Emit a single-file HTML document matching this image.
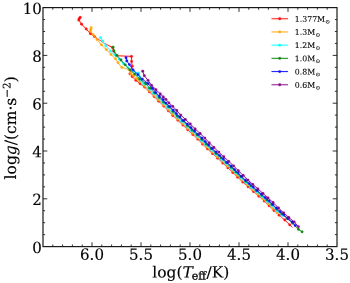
<!DOCTYPE html>
<html><head><meta charset="utf-8"><title>log g vs log Teff</title>
<style>html,body{margin:0;padding:0;background:#fff;}svg{display:block;will-change:transform;}text{font-family:"DejaVu Serif","Liberation Serif",serif;fill:#000;stroke:#000;stroke-width:0.15px;}</style></head>
<body>
<svg width="350" height="283" viewBox="0 0 350 283">
<defs><filter id="soft" x="0" y="0" width="350" height="283" filterUnits="userSpaceOnUse"><feConvolveMatrix order="3" kernelMatrix="0.008 0.04 0.008 0.04 0.808 0.04 0.008 0.04 0.008" edgeMode="duplicate" preserveAlpha="false"/></filter></defs>
<rect x="0" y="0" width="350" height="283" fill="#fff"/>
<g filter="url(#soft)">
<g stroke="#ff0000" fill="#ff0000"><polyline points="80.2,17.3 79.3,18.6 78.8,20.0 81.6,24.2 86.2,29.0 90.4,33.7 94.5,36.6 104.7,43.4 112.5,47.6 113.5,51.0 116.5,55.7 131.5,56.4 131.6,61.4 132.2,66.2 129.9,73.8 132.2,76.6 135.9,80.3 140.1,83.7 144.5,87.0 149.3,91.8 154.1,96.5 158.7,101.2 163.7,106.0 168.3,110.8 172.7,115.5 177.9,120.2 182.9,125.0 187.7,129.8 192.9,134.5 197.9,139.2 202.5,144.0 207.4,148.8 212.4,153.5 217.6,158.2 222.8,163.0 227.8,167.8 232.7,172.5 237.7,177.2 242.7,182.0 248.1,186.8 253.5,191.5 258.8,196.2 264.2,201.0 269.1,205.8 274.0,210.5 279.2,215.2 284.8,220.0 289.7,224.8 292.4,227.5" fill="none" stroke-width="1.0" stroke-linejoin="round"/><circle cx="80.2" cy="17.3" r="1.38" stroke="none"/><circle cx="79.3" cy="18.6" r="1.38" stroke="none"/><circle cx="78.8" cy="20.0" r="1.38" stroke="none"/><circle cx="81.6" cy="24.2" r="1.38" stroke="none"/><circle cx="86.2" cy="29.0" r="1.38" stroke="none"/><circle cx="90.4" cy="33.7" r="1.38" stroke="none"/><circle cx="94.5" cy="36.6" r="1.38" stroke="none"/><circle cx="112.5" cy="47.6" r="1.38" stroke="none"/><circle cx="113.5" cy="51.0" r="1.38" stroke="none"/><circle cx="116.5" cy="55.7" r="1.38" stroke="none"/><circle cx="131.5" cy="56.4" r="1.38" stroke="none"/><circle cx="131.6" cy="61.4" r="1.38" stroke="none"/><circle cx="132.2" cy="66.2" r="1.38" stroke="none"/><circle cx="129.9" cy="73.8" r="1.38" stroke="none"/><circle cx="132.2" cy="76.6" r="1.38" stroke="none"/><circle cx="135.9" cy="80.3" r="1.38" stroke="none"/><circle cx="140.1" cy="83.7" r="1.38" stroke="none"/><circle cx="144.5" cy="87.0" r="1.38" stroke="none"/><circle cx="149.3" cy="91.8" r="1.38" stroke="none"/><circle cx="154.1" cy="96.5" r="1.38" stroke="none"/><circle cx="158.7" cy="101.2" r="1.38" stroke="none"/><circle cx="163.7" cy="106.0" r="1.38" stroke="none"/><circle cx="168.3" cy="110.8" r="1.38" stroke="none"/><circle cx="172.7" cy="115.5" r="1.38" stroke="none"/><circle cx="177.9" cy="120.2" r="1.38" stroke="none"/><circle cx="182.9" cy="125.0" r="1.38" stroke="none"/><circle cx="187.7" cy="129.8" r="1.38" stroke="none"/><circle cx="192.9" cy="134.5" r="1.38" stroke="none"/><circle cx="197.9" cy="139.2" r="1.38" stroke="none"/><circle cx="202.5" cy="144.0" r="1.38" stroke="none"/><circle cx="207.4" cy="148.8" r="1.38" stroke="none"/><circle cx="212.4" cy="153.5" r="1.38" stroke="none"/><circle cx="217.6" cy="158.2" r="1.38" stroke="none"/><circle cx="222.8" cy="163.0" r="1.38" stroke="none"/><circle cx="227.8" cy="167.8" r="1.38" stroke="none"/><circle cx="232.7" cy="172.5" r="1.38" stroke="none"/><circle cx="237.7" cy="177.2" r="1.38" stroke="none"/><circle cx="242.7" cy="182.0" r="1.38" stroke="none"/><circle cx="248.1" cy="186.8" r="1.38" stroke="none"/><circle cx="253.5" cy="191.5" r="1.38" stroke="none"/><circle cx="258.8" cy="196.2" r="1.38" stroke="none"/><circle cx="264.2" cy="201.0" r="1.38" stroke="none"/><circle cx="269.1" cy="205.8" r="1.38" stroke="none"/><circle cx="274.0" cy="210.5" r="1.38" stroke="none"/><circle cx="279.2" cy="215.2" r="1.38" stroke="none"/><circle cx="284.8" cy="220.0" r="1.38" stroke="none"/><circle cx="289.7" cy="224.8" r="1.38" stroke="none"/></g>
<g stroke="#ffa500" fill="#ffa500"><polyline points="91.2,27.7 90.8,29.5 90.4,31.1 93.1,34.6 97.0,39.5 101.5,44.8 106.3,49.6 111.1,54.5 115.5,58.8 118.0,62.6 121.8,67.4 129.3,69.6 130.8,73.5 133.6,75.7 136.6,78.6 139.8,81.4 144.8,86.0 149.5,90.7 154.3,95.4 159.1,100.1 163.6,104.8 168.4,109.5 172.8,114.2 177.7,118.9 182.8,123.6 187.6,128.3 192.7,133.0 197.7,137.7 202.3,142.4 207.0,147.1 212.0,151.8 217.1,156.5 222.3,161.2 227.4,165.9 232.2,170.6 237.2,175.3 241.9,180.0 247.1,184.7 252.4,189.4 257.7,194.1 262.8,198.8 268.0,203.5 272.6,208.2 277.5,212.9" fill="none" stroke-width="1.0" stroke-linejoin="round"/><circle cx="91.2" cy="27.7" r="1.38" stroke="none"/><circle cx="90.8" cy="29.5" r="1.38" stroke="none"/><circle cx="90.4" cy="31.1" r="1.38" stroke="none"/><circle cx="93.1" cy="34.6" r="1.38" stroke="none"/><circle cx="97.0" cy="39.5" r="1.38" stroke="none"/><circle cx="101.5" cy="44.8" r="1.38" stroke="none"/><circle cx="106.3" cy="49.6" r="1.38" stroke="none"/><circle cx="111.1" cy="54.5" r="1.38" stroke="none"/><circle cx="115.5" cy="58.8" r="1.38" stroke="none"/><circle cx="118.0" cy="62.6" r="1.38" stroke="none"/><circle cx="121.8" cy="67.4" r="1.38" stroke="none"/><circle cx="129.3" cy="69.6" r="1.38" stroke="none"/><circle cx="130.8" cy="73.5" r="1.38" stroke="none"/><circle cx="133.6" cy="75.7" r="1.38" stroke="none"/><circle cx="136.6" cy="78.6" r="1.38" stroke="none"/><circle cx="139.8" cy="81.4" r="1.38" stroke="none"/><circle cx="144.8" cy="86.0" r="1.38" stroke="none"/><circle cx="149.5" cy="90.7" r="1.38" stroke="none"/><circle cx="154.3" cy="95.4" r="1.38" stroke="none"/><circle cx="159.1" cy="100.1" r="1.38" stroke="none"/><circle cx="163.6" cy="104.8" r="1.38" stroke="none"/><circle cx="168.4" cy="109.5" r="1.38" stroke="none"/><circle cx="172.8" cy="114.2" r="1.38" stroke="none"/><circle cx="177.7" cy="118.9" r="1.38" stroke="none"/><circle cx="182.8" cy="123.6" r="1.38" stroke="none"/><circle cx="187.6" cy="128.3" r="1.38" stroke="none"/><circle cx="192.7" cy="133.0" r="1.38" stroke="none"/><circle cx="197.7" cy="137.7" r="1.38" stroke="none"/><circle cx="202.3" cy="142.4" r="1.38" stroke="none"/><circle cx="207.0" cy="147.1" r="1.38" stroke="none"/><circle cx="212.0" cy="151.8" r="1.38" stroke="none"/><circle cx="217.1" cy="156.5" r="1.38" stroke="none"/><circle cx="222.3" cy="161.2" r="1.38" stroke="none"/><circle cx="227.4" cy="165.9" r="1.38" stroke="none"/><circle cx="232.2" cy="170.6" r="1.38" stroke="none"/><circle cx="237.2" cy="175.3" r="1.38" stroke="none"/><circle cx="241.9" cy="180.0" r="1.38" stroke="none"/><circle cx="247.1" cy="184.7" r="1.38" stroke="none"/><circle cx="252.4" cy="189.4" r="1.38" stroke="none"/><circle cx="257.7" cy="194.1" r="1.38" stroke="none"/><circle cx="262.8" cy="198.8" r="1.38" stroke="none"/><circle cx="268.0" cy="203.5" r="1.38" stroke="none"/><circle cx="272.6" cy="208.2" r="1.38" stroke="none"/><circle cx="277.5" cy="212.9" r="1.38" stroke="none"/></g>
<g stroke="#00ffff" fill="#00ffff"><polyline points="100.5,37.6 102.6,41.1 105.8,45.9 110.6,51.2 114.6,54.9 119.2,59.3 123.5,63.7 128.0,68.0 133.4,71.2 138.6,73.2 139.6,76.8 141.2,80.4 143.5,83.9 148.4,88.5 153.2,93.2 158.0,97.9 162.3,102.6 167.4,107.3 171.8,112.0 176.4,116.7 181.5,121.4 186.4,126.1 191.3,130.8 196.4,135.5 201.1,140.2 205.7,144.9 210.6,149.6 215.6,154.3 220.7,159.0 225.9,163.7 230.8,168.4 235.7,173.1 240.6,177.8 245.6,182.5 251.0,187.2 256.4,191.9 261.7,196.6 267.0,201.3 271.9,206.0 276.8,210.7 282.0,215.4" fill="none" stroke-width="1.0" stroke-linejoin="round"/><circle cx="100.5" cy="37.6" r="1.38" stroke="none"/><circle cx="102.6" cy="41.1" r="1.38" stroke="none"/><circle cx="105.8" cy="45.9" r="1.38" stroke="none"/><circle cx="110.6" cy="51.2" r="1.38" stroke="none"/><circle cx="114.6" cy="54.9" r="1.38" stroke="none"/><circle cx="119.2" cy="59.3" r="1.38" stroke="none"/><circle cx="123.5" cy="63.7" r="1.38" stroke="none"/><circle cx="128.0" cy="68.0" r="1.38" stroke="none"/><circle cx="133.4" cy="71.2" r="1.38" stroke="none"/><circle cx="138.6" cy="73.2" r="1.38" stroke="none"/><circle cx="139.6" cy="76.8" r="1.38" stroke="none"/><circle cx="141.2" cy="80.4" r="1.38" stroke="none"/><circle cx="143.5" cy="83.9" r="1.38" stroke="none"/><circle cx="148.4" cy="88.5" r="1.38" stroke="none"/><circle cx="153.2" cy="93.2" r="1.38" stroke="none"/><circle cx="158.0" cy="97.9" r="1.38" stroke="none"/><circle cx="162.3" cy="102.6" r="1.38" stroke="none"/><circle cx="167.4" cy="107.3" r="1.38" stroke="none"/><circle cx="171.8" cy="112.0" r="1.38" stroke="none"/><circle cx="176.4" cy="116.7" r="1.38" stroke="none"/><circle cx="181.5" cy="121.4" r="1.38" stroke="none"/><circle cx="186.4" cy="126.1" r="1.38" stroke="none"/><circle cx="191.3" cy="130.8" r="1.38" stroke="none"/><circle cx="196.4" cy="135.5" r="1.38" stroke="none"/><circle cx="201.1" cy="140.2" r="1.38" stroke="none"/><circle cx="205.7" cy="144.9" r="1.38" stroke="none"/><circle cx="210.6" cy="149.6" r="1.38" stroke="none"/><circle cx="215.6" cy="154.3" r="1.38" stroke="none"/><circle cx="220.7" cy="159.0" r="1.38" stroke="none"/><circle cx="225.9" cy="163.7" r="1.38" stroke="none"/><circle cx="230.8" cy="168.4" r="1.38" stroke="none"/><circle cx="235.7" cy="173.1" r="1.38" stroke="none"/><circle cx="240.6" cy="177.8" r="1.38" stroke="none"/><circle cx="245.6" cy="182.5" r="1.38" stroke="none"/><circle cx="251.0" cy="187.2" r="1.38" stroke="none"/><circle cx="256.4" cy="191.9" r="1.38" stroke="none"/><circle cx="261.7" cy="196.6" r="1.38" stroke="none"/><circle cx="267.0" cy="201.3" r="1.38" stroke="none"/><circle cx="271.9" cy="206.0" r="1.38" stroke="none"/><circle cx="276.8" cy="210.7" r="1.38" stroke="none"/><circle cx="282.0" cy="215.4" r="1.38" stroke="none"/></g>
<g stroke="#008000" fill="#008000"><polyline points="113.0,47.2 114.0,51.0 116.9,55.3 121.0,60.0 125.2,64.8 130.0,69.9 134.7,74.1 139.5,78.9 145.6,83.5 149.8,88.2 154.5,92.8 159.2,97.5 163.6,102.1 168.5,106.8 173.0,111.4 177.3,116.1 182.4,120.7 187.3,125.4 192.0,130.0 197.1,134.7 201.8,139.3 206.3,144.0 211.1,148.6 216.0,153.3 221.1,157.9 226.2,162.6 231.1,167.2 235.9,171.9 240.7,176.5 245.6,181.2 250.9,185.8 256.3,190.5 261.6,195.1 266.8,199.8 271.9,204.4 276.7,209.1 281.7,213.7 287.1,218.4 292.5,223.0 298.4,229.3 302.1,231.8" fill="none" stroke-width="1.0" stroke-linejoin="round"/><circle cx="113.0" cy="47.2" r="1.38" stroke="none"/><circle cx="114.0" cy="51.0" r="1.38" stroke="none"/><circle cx="116.9" cy="55.3" r="1.38" stroke="none"/><circle cx="121.0" cy="60.0" r="1.38" stroke="none"/><circle cx="125.2" cy="64.8" r="1.38" stroke="none"/><circle cx="130.0" cy="69.9" r="1.38" stroke="none"/><circle cx="134.7" cy="74.1" r="1.38" stroke="none"/><circle cx="139.5" cy="78.9" r="1.38" stroke="none"/><circle cx="145.6" cy="83.5" r="1.38" stroke="none"/><circle cx="149.8" cy="88.2" r="1.38" stroke="none"/><circle cx="154.5" cy="92.8" r="1.38" stroke="none"/><circle cx="159.2" cy="97.5" r="1.38" stroke="none"/><circle cx="163.6" cy="102.1" r="1.38" stroke="none"/><circle cx="168.5" cy="106.8" r="1.38" stroke="none"/><circle cx="173.0" cy="111.4" r="1.38" stroke="none"/><circle cx="177.3" cy="116.1" r="1.38" stroke="none"/><circle cx="182.4" cy="120.7" r="1.38" stroke="none"/><circle cx="187.3" cy="125.4" r="1.38" stroke="none"/><circle cx="192.0" cy="130.0" r="1.38" stroke="none"/><circle cx="197.1" cy="134.7" r="1.38" stroke="none"/><circle cx="201.8" cy="139.3" r="1.38" stroke="none"/><circle cx="206.3" cy="144.0" r="1.38" stroke="none"/><circle cx="211.1" cy="148.6" r="1.38" stroke="none"/><circle cx="216.0" cy="153.3" r="1.38" stroke="none"/><circle cx="221.1" cy="157.9" r="1.38" stroke="none"/><circle cx="226.2" cy="162.6" r="1.38" stroke="none"/><circle cx="231.1" cy="167.2" r="1.38" stroke="none"/><circle cx="235.9" cy="171.9" r="1.38" stroke="none"/><circle cx="240.7" cy="176.5" r="1.38" stroke="none"/><circle cx="245.6" cy="181.2" r="1.38" stroke="none"/><circle cx="250.9" cy="185.8" r="1.38" stroke="none"/><circle cx="256.3" cy="190.5" r="1.38" stroke="none"/><circle cx="261.6" cy="195.1" r="1.38" stroke="none"/><circle cx="266.8" cy="199.8" r="1.38" stroke="none"/><circle cx="271.9" cy="204.4" r="1.38" stroke="none"/><circle cx="276.7" cy="209.1" r="1.38" stroke="none"/><circle cx="281.7" cy="213.7" r="1.38" stroke="none"/><circle cx="287.1" cy="218.4" r="1.38" stroke="none"/><circle cx="292.5" cy="223.0" r="1.38" stroke="none"/><circle cx="298.4" cy="229.3" r="1.38" stroke="none"/><circle cx="302.1" cy="231.8" r="1.38" stroke="none"/></g>
<g stroke="#0000ff" fill="#0000ff"><polyline points="126.0,57.7 126.8,60.9 129.4,64.6 133.1,69.9 137.9,74.7 142.3,79.1 148.1,83.6 152.4,88.3 155.8,92.6 159.3,96.1 163.0,99.6 165.9,103.1 169.8,106.6 173.2,110.1 176.3,113.6 179.8,117.1 183.6,120.6 187.3,124.1 190.8,127.6 194.5,131.1 198.2,134.6 201.9,138.1 205.2,141.6 208.6,145.1 212.2,148.6 215.9,152.1 219.6,155.6 223.4,159.1 227.2,162.6 231.0,166.1 234.5,169.6 238.1,173.1 241.7,176.6 245.3,180.1 249.2,183.6 253.2,187.1 257.2,190.6 261.2,194.1 265.1,197.6 269.1,201.1 272.8,204.6 276.3,208.1 280.0,211.6 283.9,215.1 288.0,218.6 292.2,222.1 295.3,225.6" fill="none" stroke-width="1.0" stroke-linejoin="round"/><circle cx="126.0" cy="57.7" r="1.38" stroke="none"/><circle cx="126.8" cy="60.9" r="1.38" stroke="none"/><circle cx="129.4" cy="64.6" r="1.38" stroke="none"/><circle cx="133.1" cy="69.9" r="1.38" stroke="none"/><circle cx="137.9" cy="74.7" r="1.38" stroke="none"/><circle cx="142.3" cy="79.1" r="1.38" stroke="none"/><circle cx="148.1" cy="83.6" r="1.38" stroke="none"/><circle cx="152.4" cy="88.3" r="1.38" stroke="none"/><circle cx="155.8" cy="92.6" r="1.38" stroke="none"/><circle cx="159.3" cy="96.1" r="1.38" stroke="none"/><circle cx="163.0" cy="99.6" r="1.38" stroke="none"/><circle cx="165.9" cy="103.1" r="1.38" stroke="none"/><circle cx="169.8" cy="106.6" r="1.38" stroke="none"/><circle cx="173.2" cy="110.1" r="1.38" stroke="none"/><circle cx="176.3" cy="113.6" r="1.38" stroke="none"/><circle cx="179.8" cy="117.1" r="1.38" stroke="none"/><circle cx="183.6" cy="120.6" r="1.38" stroke="none"/><circle cx="187.3" cy="124.1" r="1.38" stroke="none"/><circle cx="190.8" cy="127.6" r="1.38" stroke="none"/><circle cx="194.5" cy="131.1" r="1.38" stroke="none"/><circle cx="198.2" cy="134.6" r="1.38" stroke="none"/><circle cx="201.9" cy="138.1" r="1.38" stroke="none"/><circle cx="205.2" cy="141.6" r="1.38" stroke="none"/><circle cx="208.6" cy="145.1" r="1.38" stroke="none"/><circle cx="212.2" cy="148.6" r="1.38" stroke="none"/><circle cx="215.9" cy="152.1" r="1.38" stroke="none"/><circle cx="219.6" cy="155.6" r="1.38" stroke="none"/><circle cx="223.4" cy="159.1" r="1.38" stroke="none"/><circle cx="227.2" cy="162.6" r="1.38" stroke="none"/><circle cx="231.0" cy="166.1" r="1.38" stroke="none"/><circle cx="234.5" cy="169.6" r="1.38" stroke="none"/><circle cx="238.1" cy="173.1" r="1.38" stroke="none"/><circle cx="241.7" cy="176.6" r="1.38" stroke="none"/><circle cx="245.3" cy="180.1" r="1.38" stroke="none"/><circle cx="249.2" cy="183.6" r="1.38" stroke="none"/><circle cx="253.2" cy="187.1" r="1.38" stroke="none"/><circle cx="257.2" cy="190.6" r="1.38" stroke="none"/><circle cx="261.2" cy="194.1" r="1.38" stroke="none"/><circle cx="265.1" cy="197.6" r="1.38" stroke="none"/><circle cx="269.1" cy="201.1" r="1.38" stroke="none"/><circle cx="272.8" cy="204.6" r="1.38" stroke="none"/><circle cx="276.3" cy="208.1" r="1.38" stroke="none"/><circle cx="280.0" cy="211.6" r="1.38" stroke="none"/><circle cx="283.9" cy="215.1" r="1.38" stroke="none"/><circle cx="288.0" cy="218.6" r="1.38" stroke="none"/><circle cx="292.2" cy="222.1" r="1.38" stroke="none"/><circle cx="295.3" cy="225.6" r="1.38" stroke="none"/></g>
<g stroke="#800080" fill="#800080"><polyline points="142.7,71.2 144.3,75.7 148.0,80.3 151.6,85.3 155.9,89.6 160.3,93.9 163.3,96.9 165.9,99.3 168.9,102.9 172.7,106.3 176.7,110.5 180.8,115.1 185.3,119.3 190.3,124.0 195.1,128.9 200.1,133.5 204.9,138.1 209.3,142.8 213.9,147.4 218.8,152.1 223.7,156.7 228.7,161.3 233.6,165.9 238.3,170.6 243.2,175.3 248.0,180.1 252.8,184.4 257.9,188.9 263.0,193.4 268.0,198.0 273.1,202.5 278.5,208.0 283.7,212.9 288.8,217.5 294.2,221.9 298.4,226.7" fill="none" stroke-width="1.0" stroke-linejoin="round"/><circle cx="142.7" cy="71.2" r="1.38" stroke="none"/><circle cx="144.3" cy="75.7" r="1.38" stroke="none"/><circle cx="148.0" cy="80.3" r="1.38" stroke="none"/><circle cx="151.6" cy="85.3" r="1.38" stroke="none"/><circle cx="155.9" cy="89.6" r="1.38" stroke="none"/><circle cx="160.3" cy="93.9" r="1.38" stroke="none"/><circle cx="163.3" cy="96.9" r="1.38" stroke="none"/><circle cx="165.9" cy="99.3" r="1.38" stroke="none"/><circle cx="168.9" cy="102.9" r="1.38" stroke="none"/><circle cx="172.7" cy="106.3" r="1.38" stroke="none"/><circle cx="176.7" cy="110.5" r="1.38" stroke="none"/><circle cx="180.8" cy="115.1" r="1.38" stroke="none"/><circle cx="185.3" cy="119.3" r="1.38" stroke="none"/><circle cx="190.3" cy="124.0" r="1.38" stroke="none"/><circle cx="195.1" cy="128.9" r="1.38" stroke="none"/><circle cx="200.1" cy="133.5" r="1.38" stroke="none"/><circle cx="204.9" cy="138.1" r="1.38" stroke="none"/><circle cx="209.3" cy="142.8" r="1.38" stroke="none"/><circle cx="213.9" cy="147.4" r="1.38" stroke="none"/><circle cx="218.8" cy="152.1" r="1.38" stroke="none"/><circle cx="223.7" cy="156.7" r="1.38" stroke="none"/><circle cx="228.7" cy="161.3" r="1.38" stroke="none"/><circle cx="233.6" cy="165.9" r="1.38" stroke="none"/><circle cx="238.3" cy="170.6" r="1.38" stroke="none"/><circle cx="243.2" cy="175.3" r="1.38" stroke="none"/><circle cx="248.0" cy="180.1" r="1.38" stroke="none"/><circle cx="252.8" cy="184.4" r="1.38" stroke="none"/><circle cx="257.9" cy="188.9" r="1.38" stroke="none"/><circle cx="263.0" cy="193.4" r="1.38" stroke="none"/><circle cx="268.0" cy="198.0" r="1.38" stroke="none"/><circle cx="273.1" cy="202.5" r="1.38" stroke="none"/><circle cx="278.5" cy="208.0" r="1.38" stroke="none"/><circle cx="283.7" cy="212.9" r="1.38" stroke="none"/><circle cx="288.8" cy="217.5" r="1.38" stroke="none"/><circle cx="294.2" cy="221.9" r="1.38" stroke="none"/><circle cx="298.4" cy="226.7" r="1.38" stroke="none"/></g>
</g>
<g stroke="#1a1a1a" stroke-width="1.2" fill="none"><rect x="43.0" y="7.6" width="294.0" height="239.0"/></g>
<path d="M327.20 246.6v-2.1M327.20 7.6v2.1M317.40 246.6v-2.1M317.40 7.6v2.1M307.60 246.6v-2.1M307.60 7.6v2.1M297.80 246.6v-2.1M297.80 7.6v2.1M288.00 246.6v-4.3M288.00 7.6v4.3M278.20 246.6v-2.1M278.20 7.6v2.1M268.40 246.6v-2.1M268.40 7.6v2.1M258.60 246.6v-2.1M258.60 7.6v2.1M248.80 246.6v-2.1M248.80 7.6v2.1M239.00 246.6v-4.3M239.00 7.6v4.3M229.20 246.6v-2.1M229.20 7.6v2.1M219.40 246.6v-2.1M219.40 7.6v2.1M209.60 246.6v-2.1M209.60 7.6v2.1M199.80 246.6v-2.1M199.80 7.6v2.1M190.00 246.6v-4.3M190.00 7.6v4.3M180.20 246.6v-2.1M180.20 7.6v2.1M170.40 246.6v-2.1M170.40 7.6v2.1M160.60 246.6v-2.1M160.60 7.6v2.1M150.80 246.6v-2.1M150.80 7.6v2.1M141.00 246.6v-4.3M141.00 7.6v4.3M131.20 246.6v-2.1M131.20 7.6v2.1M121.40 246.6v-2.1M121.40 7.6v2.1M111.60 246.6v-2.1M111.60 7.6v2.1M101.80 246.6v-2.1M101.80 7.6v2.1M92.00 246.6v-4.3M92.00 7.6v4.3M82.20 246.6v-2.1M82.20 7.6v2.1M72.40 246.6v-2.1M72.40 7.6v2.1M62.60 246.6v-2.1M62.60 7.6v2.1M52.80 246.6v-2.1M52.80 7.6v2.1M43.0 234.65h2.1M337.0 234.65h-2.1M43.0 222.70h2.1M337.0 222.70h-2.1M43.0 210.75h2.1M337.0 210.75h-2.1M43.0 198.80h4.3M337.0 198.80h-4.3M43.0 186.85h2.1M337.0 186.85h-2.1M43.0 174.90h2.1M337.0 174.90h-2.1M43.0 162.95h2.1M337.0 162.95h-2.1M43.0 151.00h4.3M337.0 151.00h-4.3M43.0 139.05h2.1M337.0 139.05h-2.1M43.0 127.10h2.1M337.0 127.10h-2.1M43.0 115.15h2.1M337.0 115.15h-2.1M43.0 103.20h4.3M337.0 103.20h-4.3M43.0 91.25h2.1M337.0 91.25h-2.1M43.0 79.30h2.1M337.0 79.30h-2.1M43.0 67.35h2.1M337.0 67.35h-2.1M43.0 55.40h4.3M337.0 55.40h-4.3M43.0 43.45h2.1M337.0 43.45h-2.1M43.0 31.50h2.1M337.0 31.50h-2.1M43.0 19.55h2.1M337.0 19.55h-2.1" stroke="#1a1a1a" stroke-width="0.9" fill="none"/>
<text transform="translate(92.0,259.8) rotate(0.03) scale(0.97,1.0)" font-size="15.5" text-anchor="middle">6.0</text><text transform="translate(141.0,259.8) rotate(0.03) scale(0.97,1.0)" font-size="15.5" text-anchor="middle">5.5</text><text transform="translate(190.0,259.8) rotate(0.03) scale(0.97,1.0)" font-size="15.5" text-anchor="middle">5.0</text><text transform="translate(239.0,259.8) rotate(0.03) scale(0.97,1.0)" font-size="15.5" text-anchor="middle">4.5</text><text transform="translate(288.0,259.8) rotate(0.03) scale(0.97,1.0)" font-size="15.5" text-anchor="middle">4.0</text><text transform="translate(337.0,259.8) rotate(0.03) scale(0.97,1.0)" font-size="15.5" text-anchor="middle">3.5</text>
<text transform="translate(41.8,252.9) rotate(0.03) scale(0.97,1.0)" font-size="15.5" text-anchor="end">0</text><text transform="translate(41.8,205.1) rotate(0.03) scale(0.97,1.0)" font-size="15.5" text-anchor="end">2</text><text transform="translate(41.8,157.3) rotate(0.03) scale(0.97,1.0)" font-size="15.5" text-anchor="end">4</text><text transform="translate(41.8,109.5) rotate(0.03) scale(0.97,1.0)" font-size="15.5" text-anchor="end">6</text><text transform="translate(41.8,61.7) rotate(0.03) scale(0.97,1.0)" font-size="15.5" text-anchor="end">8</text><text transform="translate(41.8,13.9) rotate(0.03) scale(0.97,1.0)" font-size="15.5" text-anchor="end">10</text>
<text transform="translate(190.8,277.5) rotate(0.03) scale(1.0,1)" font-size="15.5" text-anchor="middle">log(<tspan font-style="italic">T</tspan><tspan font-size="11" dy="2" dx="-1.1" style="stroke-width:0.3px">eff</tspan><tspan dy="-2" dx="0.4">/K)</tspan></text>
<text transform="translate(15.9,127.8) rotate(-90.03) scale(1.0,1)" font-size="15.5" text-anchor="middle">log<tspan font-style="italic">g</tspan>/(cm·s<tspan font-size="10.5" dy="-5.5">−2</tspan><tspan dy="5.5">)</tspan></text>
<g filter="url(#soft)" stroke="#ff0000" fill="#ff0000"><line x1="271.5" y1="18.75" x2="288" y2="18.75" stroke-width="1.0"/><circle cx="279.7" cy="18.75" r="1.38" stroke="none"/></g><text transform="translate(294.8,21.65) rotate(0.03)" font-size="7.8" style="stroke-width:0.1px">1.377M<tspan font-size="5.7" dy="1.8" dx="0.2">⊙</tspan></text>
<g filter="url(#soft)" stroke="#ffa500" fill="#ffa500"><line x1="271.5" y1="31.95" x2="288" y2="31.95" stroke-width="1.0"/><circle cx="279.7" cy="31.95" r="1.38" stroke="none"/></g><text transform="translate(294.8,34.85) rotate(0.03)" font-size="7.8" style="stroke-width:0.1px">1.3M<tspan font-size="5.7" dy="1.8" dx="0.2">⊙</tspan></text>
<g filter="url(#soft)" stroke="#00ffff" fill="#00ffff"><line x1="271.5" y1="45.15" x2="288" y2="45.15" stroke-width="1.0"/><circle cx="279.7" cy="45.15" r="1.38" stroke="none"/></g><text transform="translate(294.8,48.05) rotate(0.03)" font-size="7.8" style="stroke-width:0.1px">1.2M<tspan font-size="5.7" dy="1.8" dx="0.2">⊙</tspan></text>
<g filter="url(#soft)" stroke="#008000" fill="#008000"><line x1="271.5" y1="58.35" x2="288" y2="58.35" stroke-width="1.0"/><circle cx="279.7" cy="58.35" r="1.38" stroke="none"/></g><text transform="translate(294.8,61.25) rotate(0.03)" font-size="7.8" style="stroke-width:0.1px">1.0M<tspan font-size="5.7" dy="1.8" dx="0.2">⊙</tspan></text>
<g filter="url(#soft)" stroke="#0000ff" fill="#0000ff"><line x1="271.5" y1="71.55" x2="288" y2="71.55" stroke-width="1.0"/><circle cx="279.7" cy="71.55" r="1.38" stroke="none"/></g><text transform="translate(294.8,74.45) rotate(0.03)" font-size="7.8" style="stroke-width:0.1px">0.8M<tspan font-size="5.7" dy="1.8" dx="0.2">⊙</tspan></text>
<g filter="url(#soft)" stroke="#800080" fill="#800080"><line x1="271.5" y1="84.75" x2="288" y2="84.75" stroke-width="1.0"/><circle cx="279.7" cy="84.75" r="1.38" stroke="none"/></g><text transform="translate(294.8,87.65) rotate(0.03)" font-size="7.8" style="stroke-width:0.1px">0.6M<tspan font-size="5.7" dy="1.8" dx="0.2">⊙</tspan></text>
</svg>
</body></html>
